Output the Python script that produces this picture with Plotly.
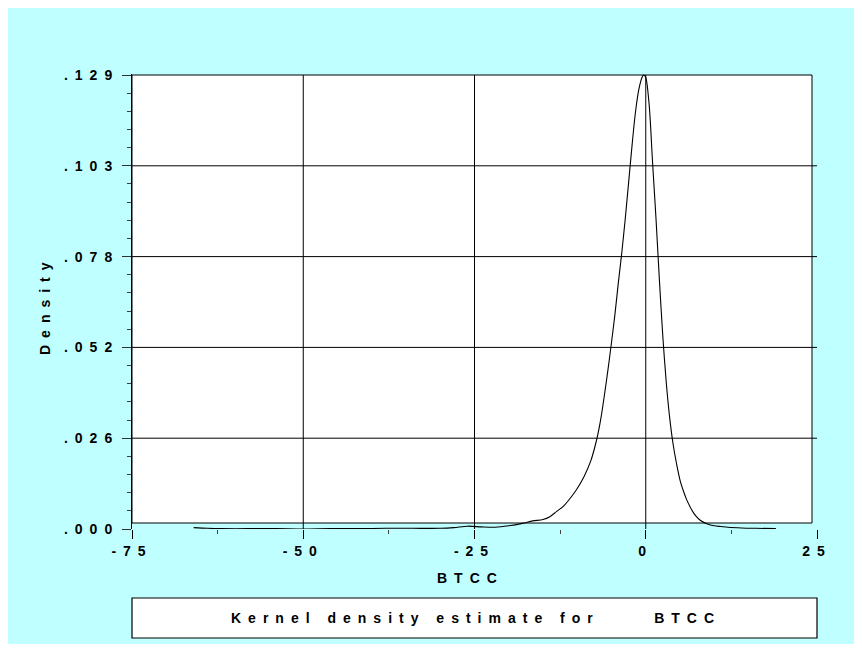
import plotly.graph_objects as go

# ---------------- data ----------------
x_vals = [-66, -64, -62, -58, -54, -50, -46, -42, -38, -34, -30, -28, -26, -24, -22,
          -20, -18, -16.5, -15, -14, -13, -12, -11, -10, -9, -8, -7.5, -7, -6.5, -6,
          -5.5, -5, -4.5, -4, -3.5, -3, -2.5, -2, -1.5, -1, -0.5, -0.3, 0, 0.5, 1,
          1.5, 2, 2.5, 3, 3.5, 4, 4.5, 5, 5.5, 6, 6.5, 7, 7.5, 8, 9, 10, 11, 12, 14, 16, 19]
density = [0.0004, 0.0002, 0.0001, 0.0001, 0.0001, 0.0000, 0.0001, 0.0001, 0.0002, 0.0002,
           0.0002, 0.0004, 0.0008, 0.0006, 0.0005, 0.0009, 0.0016, 0.0023, 0.0027, 0.0035,
           0.0050, 0.0065, 0.0088, 0.0115, 0.0149, 0.0195, 0.0228, 0.0268, 0.0320, 0.0385,
           0.0455, 0.0530, 0.0610, 0.0700, 0.0785, 0.0880, 0.0985, 0.1090, 0.1185, 0.1250,
           0.1285, 0.1290, 0.1283, 0.1205, 0.1040, 0.0880, 0.0705, 0.0545, 0.0415, 0.0315,
           0.0240, 0.0185, 0.0139, 0.0108, 0.0082, 0.0062, 0.0045, 0.0033, 0.0024, 0.0014,
           0.0009, 0.0007, 0.0005, 0.0003, 0.0002, 0.0001]

x_ticks = [-75, -50, -25, 0, 25]
x_minor = [-62.5, -37.5, -12.5, 12.5]
x_grid = [-50, -25, 0]
y_step = 0.0258
y_ticks = [0, y_step, 2 * y_step, 3 * y_step, 4 * y_step, 0.129]
y_labels = [".000", ".026", ".052", ".078", ".103", ".129"]
x_title = "BTCC"
y_title = "Density"
legend_text = "Kernel density estimate for     BTCC"

# ---------------- styling / layout helpers ----------------
GAP = "\u2002"
NB = "\u00a0"


def spaced(s, trail=False):
    out = GAP.join(NB if c == " " else c for c in s)
    return out + (GAP if trail else "")


BG = "#C0FFFF"
FONT = dict(family="Liberation Sans, Arial, sans-serif", size=14, color="black", weight="bold")

OFF = 8                      # body margin of the page
W, H = 862 - 2 * OFF, 652 - 2 * OFF
PL, PR, PT, PB = 132, 817, 74, 529   # plot-area edges in page pixels
Y0_PX, YTOP_PX = 529, 75             # pixel of y=0 and of y=0.129
y_scale = 0.129 / (Y0_PX - YTOP_PX)
y_max = (PB - PT) * y_scale


def paper_x(px):
    return (px - PL) / (PR - PL)


def paper_y(py):
    return (PB - py) / (PB - PT)


box_right = -75 + (812 - PL) / (PR - PL) * 100
box_bottom = (PB - 523) * y_scale

fig = go.Figure()
fig.add_trace(go.Scatter(x=x_vals, y=density, mode="lines",
                         line=dict(color="black", width=1.1, shape="spline", smoothing=0.8),
                         hoverinfo="skip", showlegend=False))

shapes = [dict(type="rect", xref="x", yref="y", x0=-75, x1=box_right, y0=box_bottom, y1=0.129,
               fillcolor="white", line=dict(color="black", width=1), layer="below")]
for gx in x_grid:
    shapes.append(dict(type="line", xref="x", yref="y", x0=gx, x1=gx, y0=0, y1=0.129,
                       line=dict(color="black", width=1), layer="below"))
for gy in y_ticks[1:5]:
    shapes.append(dict(type="line", xref="x", yref="y", x0=-75, x1=25, y0=gy, y1=gy,
                       line=dict(color="black", width=1), layer="below"))
# legend box
shapes.append(dict(type="rect", xref="paper", yref="paper",
                   x0=paper_x(132), x1=paper_x(817), y0=paper_y(638), y1=paper_y(598),
                   fillcolor="white", line=dict(color="black", width=1.2), layer="below"))

annotations = [
    dict(text=spaced(x_title), xref="paper", yref="paper", x=paper_x(467), y=paper_y(578),
         showarrow=False, font=FONT, xanchor="center", yanchor="middle"),
    dict(text=spaced(y_title), xref="paper", yref="paper", x=paper_x(45), y=paper_y(309),
         showarrow=False, font=FONT, textangle=-90, xanchor="center", yanchor="middle"),
    dict(text=spaced(legend_text), xref="paper", yref="paper", x=paper_x(472), y=paper_y(618),
         showarrow=False, font=FONT, xanchor="center", yanchor="middle"),
]

y_minor = []
for k in range(25):
    v = k * y_step / 5
    if k % 5 != 0:
        y_minor.append(v)

fig.update_layout(
    width=W, height=H,
    margin=dict(l=PL - OFF, r=W - (PR - OFF), t=PT - OFF, b=H - (PB - OFF), pad=0),
    paper_bgcolor=BG, plot_bgcolor="rgba(0,0,0,0)",
    shapes=shapes, annotations=annotations, font=FONT,
    xaxis=dict(range=[-75, 25], tickmode="array", tickvals=x_ticks,
               ticktext=[spaced(str(v), trail=True) for v in x_ticks],
               ticks="outside", ticklen=9, tickwidth=1, tickcolor="black",
               showgrid=False, zeroline=False, showline=False, tickfont=FONT,
               minor=dict(tickmode="array", tickvals=x_minor, ticks="outside", ticklen=4,
                          tickcolor="#404040", tickwidth=1, showgrid=False)),
    yaxis=dict(range=[0, y_max], tickmode="array", tickvals=y_ticks,
               ticktext=[spaced(t, trail=True) for t in y_labels],
               ticks="outside", ticklen=9, tickwidth=1, tickcolor="#303030",
               showgrid=False, zeroline=False, showline=True, linecolor="black", linewidth=1,
               tickfont=FONT,
               minor=dict(tickmode="array", tickvals=y_minor, ticks="outside", ticklen=4,
                          tickcolor="#404040", tickwidth=1, showgrid=False)),
)

fig.write_html("out.html")
